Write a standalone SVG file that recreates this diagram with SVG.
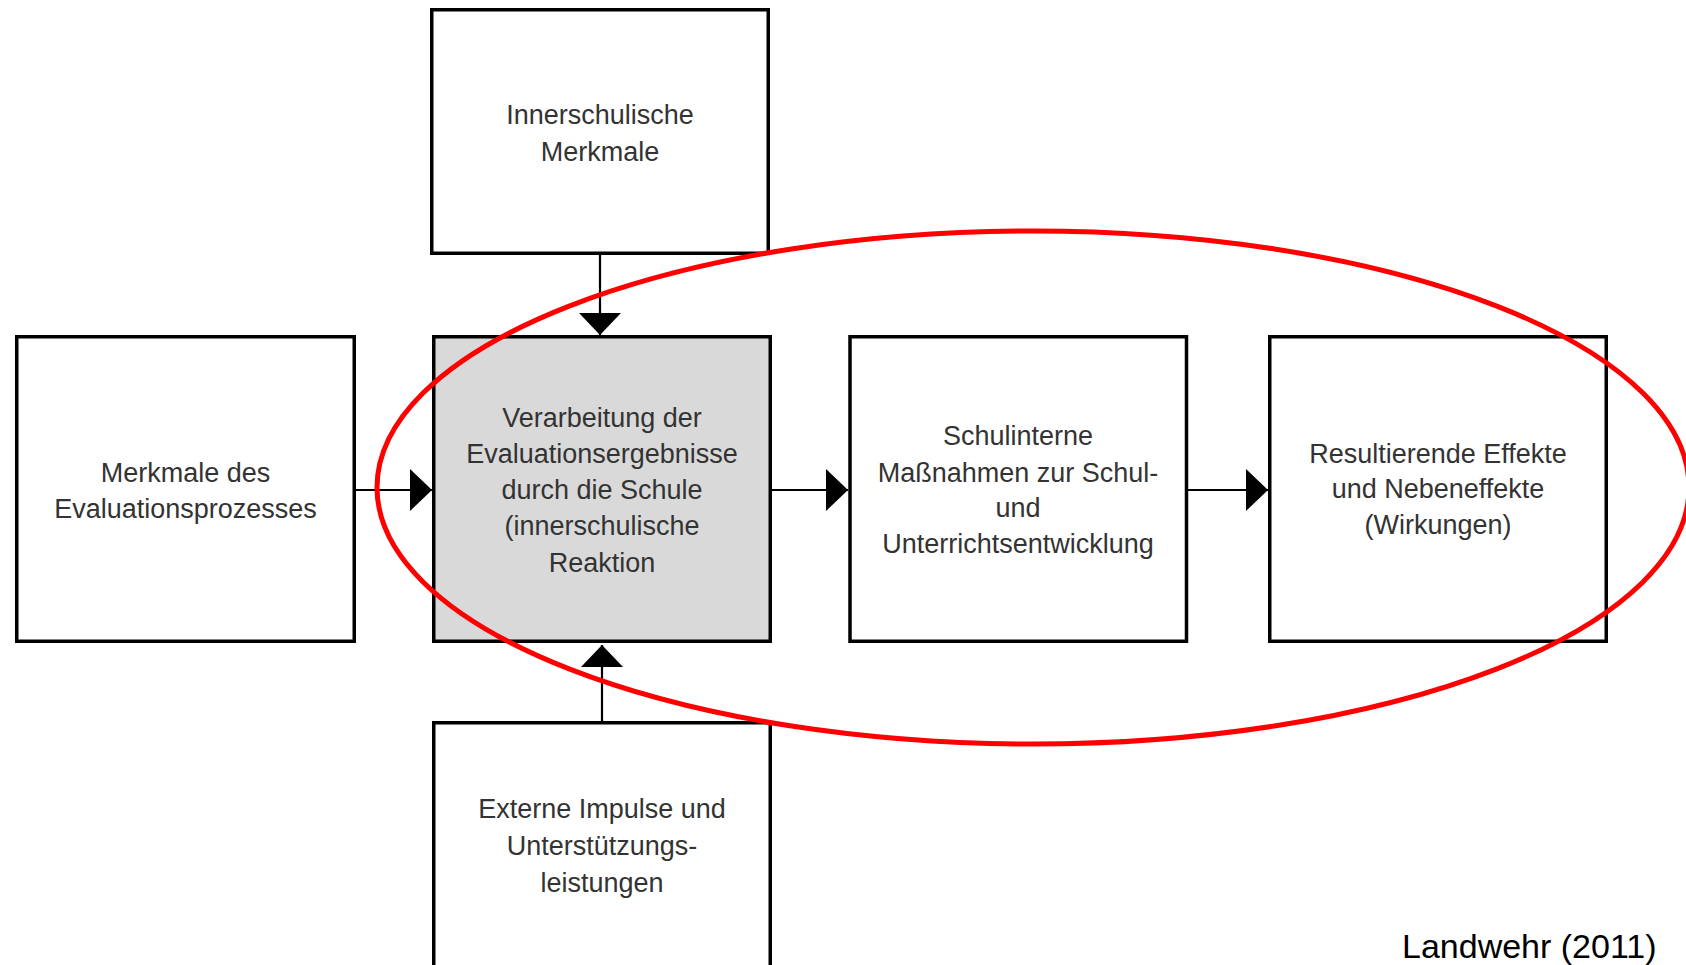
<svg xmlns="http://www.w3.org/2000/svg" width="1686" height="965" viewBox="0 0 1686 965">
  <defs>
    <style>
      .box { fill: #ffffff; stroke: #000000; stroke-width: 3.5; }
      .hl { fill: #d9d9d9; }
      .lbl { font-family: "Liberation Sans", Arial, sans-serif; font-size: 27px; fill: #333333; text-anchor: middle; }
      .conn { stroke: #000000; stroke-width: 2.2; fill: none; }
      .cite { font-family: "Liberation Sans", Arial, sans-serif; font-size: 34px; fill: #000000; }
    </style>
    <marker id="ah" markerUnits="userSpaceOnUse" markerWidth="24" markerHeight="44" refX="22" refY="21" orient="auto">
      <path d="M0,0 L22,21 L0,42 Z" fill="#000000"/>
    </marker>
  </defs>
  <rect width="1686" height="965" fill="#ffffff"/>

  <g id="connectors">
    <line class="conn" x1="600" y1="255" x2="600" y2="335" marker-end="url(#ah)"/>
    <line class="conn" x1="602" y1="722" x2="602" y2="645" marker-end="url(#ah)"/>
    <line class="conn" x1="356" y1="490" x2="432" y2="490" marker-end="url(#ah)"/>
    <line class="conn" x1="772" y1="490" x2="848" y2="490" marker-end="url(#ah)"/>
    <line class="conn" x1="1188" y1="490" x2="1268" y2="490" marker-end="url(#ah)"/>
  </g>

  <g id="node-innerschulische">
    <rect class="box" x="431.75" y="9.75" width="336.5" height="243.5"/>
    <text class="lbl" x="600" y="124">Innerschulische</text>
    <text class="lbl" x="600" y="161">Merkmale</text>
  </g>

  <g id="node-merkmale-evaluationsprozess">
    <rect class="box" x="16.75" y="336.75" width="337.5" height="304.5"/>
    <text class="lbl" x="185.5" y="482">Merkmale des</text>
    <text class="lbl" x="185.5" y="518">Evaluationsprozesses</text>
  </g>

  <g id="node-verarbeitung">
    <rect class="box hl" x="433.75" y="336.75" width="336.5" height="304.5"/>
    <text class="lbl" x="602" y="427">Verarbeitung der</text>
    <text class="lbl" x="602" y="463">Evaluationsergebnisse</text>
    <text class="lbl" x="602" y="499">durch die Schule</text>
    <text class="lbl" x="602" y="535">(innerschulische</text>
    <text class="lbl" x="602" y="572">Reaktion</text>
  </g>

  <g id="node-massnahmen">
    <rect class="box" x="850" y="336.75" width="336.5" height="304.5"/>
    <text class="lbl" x="1018" y="445">Schulinterne</text>
    <text class="lbl" x="1018" y="482">Maßnahmen zur Schul-</text>
    <text class="lbl" x="1018" y="517">und</text>
    <text class="lbl" x="1018" y="553">Unterrichtsentwicklung</text>
  </g>

  <g id="node-effekte">
    <rect class="box" x="1269.75" y="336.75" width="336.5" height="304.5"/>
    <text class="lbl" x="1438" y="463">Resultierende Effekte</text>
    <text class="lbl" x="1438" y="498">und Nebeneffekte</text>
    <text class="lbl" x="1438" y="534">(Wirkungen)</text>
  </g>

  <g id="node-externe-impulse">
    <rect class="box" x="433.75" y="722.75" width="336.5" height="260"/>
    <text class="lbl" x="602" y="818">Externe Impulse und</text>
    <text class="lbl" x="602" y="855">Unterstützungs-</text>
    <text class="lbl" x="602" y="892">leistungen</text>
  </g>

  <g id="highlight">
    <ellipse cx="1033" cy="487.5" rx="656" ry="256.5" fill="none" stroke="#ff0000" stroke-width="5"/>
  </g>

  <text class="cite" x="1402" y="958">Landwehr (2011)</text>
</svg>
